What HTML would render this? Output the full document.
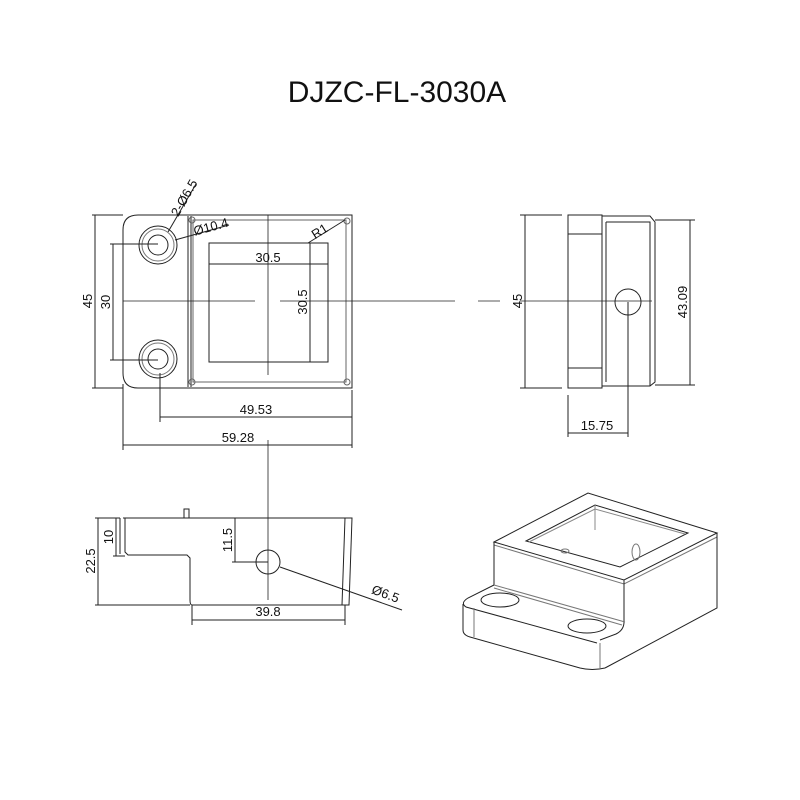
<!DOCTYPE html>
<html><head><meta charset="utf-8"><style>html,body{margin:0;padding:0;background:#fff}svg{display:block}</style></head>
<body>
<svg width="800" height="800" viewBox="0 0 800 800" xmlns="http://www.w3.org/2000/svg" font-family="Liberation Sans, Arial, sans-serif">
<rect width="800" height="800" fill="#fff"/>
<text x="397" y="102" font-size="30" text-anchor="middle" fill="#111">DJZC-FL-3030A</text>
<g fill="none" stroke="#222" stroke-width="1">
<!-- TOP VIEW -->
<path d="M138 215 H352 V388 H138 Q123 388 123 373 V230 Q123 215 138 215 Z"/>
<path d="M188 216 V387 M191 216 V387"/>
<path d="M193 220 H346 V382 H193 Z" stroke="#666"/>
<path d="M209 243 H328 V362 H209 Z"/>
<circle cx="158" cy="245" r="19"/><circle cx="158" cy="245" r="16" stroke="#777"/><circle cx="158" cy="245" r="10"/>
<circle cx="158" cy="359" r="19"/><circle cx="158" cy="359" r="16" stroke="#777"/><circle cx="158" cy="359" r="10"/>
<circle cx="192" cy="220" r="3" stroke="#666"/><circle cx="347" cy="221" r="3" stroke="#666"/><circle cx="192" cy="382" r="3" stroke="#666"/><circle cx="347" cy="382" r="3" stroke="#666"/>
<!-- center lines -->
<path d="M123 301 H255 M280 301 H455 M478 301 H500 M520 301 H652" stroke-width="0.8"/>
<path d="M268 215 V375 M268 440 V600" stroke-width="0.8"/>
<!-- dims top -->
<path d="M95 215 V388 M92 215 H123 M92 388 H123"/>
<path d="M113 244 V360 M110 244 H158 M110 360 H158"/>
<path d="M209 264 H328 M310 243 V362 M305 243 H328 M305 362 H328"/>
<path d="M308 243 L345 220"/>
<path d="M168 232 L196 184"/>
<path d="M175 240 L229 225"/>
<path d="M160 373 V422 M352 390 V448 M160 417 H352"/>
<path d="M123 384 V450 M123 445 H352"/>
<!-- RIGHT VIEW -->
<path d="M568 215 H602 V388 H568 Z"/>
<path d="M568 234 H602 M568 368 H602"/>
<path d="M602 216 H650 L655 222 V382 L650 386 H602 Z"/>
<path d="M606 222 V382 M606 222 H650 V386"/>
<circle cx="628" cy="302" r="13"/>
<path d="M628 302 V437"/>
<path d="M525 215 V388 M520 215 H562 M520 388 H562"/>
<path d="M690 220 V385 M655 220 H695 M655 385 H695"/>
<path d="M568 395 V437 M568 433 H628"/>
<!-- FRONT VIEW -->
<path d="M123 518 H352 L349 605 H192 Q190 605 190 600 V558 L187 555 H128 L125 552 V518"/>
<path d="M120 518 V554 M345 518 L342 605"/>
<path d="M184 518 V509 H189 V518"/>
<circle cx="268" cy="562" r="12"/>
<path d="M98 518 V605 M95 518 H120 M95 605 H190"/>
<path d="M116 518 V556 M113 556 H125"/>
<path d="M235 518 V562 M232 518 H265 M232 562 H268"/>
<path d="M280 567 L402 610"/>
<path d="M192 605 V625 M345 605 V625 M192 620 H345"/>
<!-- ISO -->
<path d="M494 542 L588 493 L717 533 L624 580 Z"/>
<path d="M526 541 L595 505 L688 533 L620 567 Z"/>
<path d="M529 542 L595 509 L685 534" stroke="#888"/>
<path d="M595 505 V530" stroke="#888"/>
<path d="M494 545 L624 584 L717 537" stroke="#777"/>
<ellipse cx="636" cy="552" rx="4" ry="8" stroke="#777"/>
<ellipse cx="565" cy="551" rx="4" ry="2" stroke="#777"/>
<path d="M717 533 V608 L605 668"/>
<path d="M494 542 V585 M624 580 V622 Q624 630 616 634 L600 640"/>
<path d="M494 585 L625 622 M494 588 L622 625" stroke="#777"/>
<path d="M494 585 L468 598 Q460 603 466 607 L597 643"/>
<path d="M463 604 V630 Q463 635 470 637 L580 668 Q592 671 605 668"/>
<path d="M474 608 V637 M600 643 V668" stroke="#777"/>
<ellipse cx="500" cy="600" rx="19" ry="7"/>
<ellipse cx="587" cy="626" rx="19" ry="7"/>
</g>
<g font-size="13" fill="#111" text-anchor="middle">
<text x="268" y="262">30.5</text>
<text transform="translate(307 302) rotate(-90)">30.5</text>
<text transform="translate(92 301) rotate(-90)">45</text>
<text transform="translate(110 302) rotate(-90)">30</text>
<text transform="translate(322 235) rotate(-32)">R1</text>
<text transform="translate(188 200) rotate(-60)">2-Ø6.5</text>
<text transform="translate(212 231) rotate(-15)">Ø10.4</text>
<text x="256" y="414">49.53</text>
<text x="238" y="442">59.28</text>
<text transform="translate(522 301) rotate(-90)">45</text>
<text transform="translate(687 302) rotate(-90)">43.09</text>
<text x="597" y="430">15.75</text>
<text transform="translate(95 561) rotate(-90)">22.5</text>
<text transform="translate(113 537) rotate(-90)">10</text>
<text transform="translate(232 540) rotate(-90)">11.5</text>
<text transform="translate(384 598) rotate(20)">Ø6.5</text>
<text x="268" y="616">39.8</text>
</g>
</svg>
</body></html>
